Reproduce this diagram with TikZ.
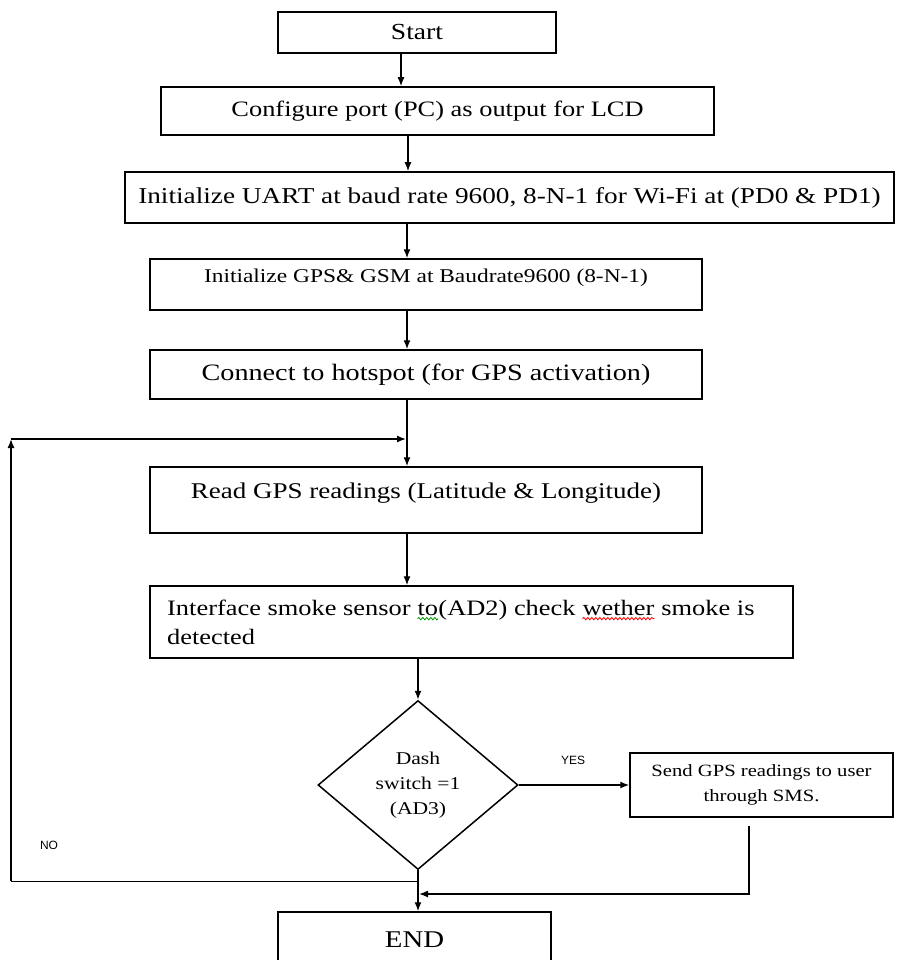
\documentclass[tikz,border=0pt]{standalone}
\usepackage{fontspec}
\setmainfont{Liberation Serif}[FakeStretch=1.2]
\newfontfamily\labfont{Liberation Sans}
\usetikzlibrary{arrows.meta,shapes.geometric,decorations.pathmorphing}
\newcommand\fsz[2]{\fontsize{#1}{#2}\selectfont}
\newcommand\wavy[2]{\tikz[baseline=(w.base)]{\node[inner sep=0pt,outer sep=0pt] (w) {#2};\draw[#1,line width=0.8pt,decorate,decoration={snake,amplitude=1.2pt,segment length=4pt}] ([yshift=-3pt]w.base west) -- ([yshift=-3pt]w.base east);}}
\tikzset{
  box/.style={draw, rectangle, line width=1.5pt, inner sep=0pt, align=center},
  arr/.style={-{Latex[length=9pt,width=7pt]}, line width=1.4pt},
  ln/.style={line width=1.4pt},
  txt/.style={inner sep=0pt, align=center},
  lab/.style={inner sep=0pt, font=\labfont\fsz{12}{14}},
}
\begin{document}
\begin{tikzpicture}[x=1pt,y=-1pt]
\useasboundingbox (0,0) rectangle (896,960);
\clip (0,0) rectangle (896,960);
% boxes
\node[box, minimum width=278, minimum height=41, font=\fsz{23}{27}] (start) at (417,32.5) {Start};
\node[box, minimum width=553, minimum height=48, font=\fsz{22}{26}] (conf) at (437.5,111) {Configure port (PC) as output for LCD};
\node[box, minimum width=769, minimum height=51, font=\fsz{22.7}{27}] (uart) at (509.5,197.5) {Initialize UART at baud rate 9600, 8-N-1 for Wi-Fi at (PD0 \& PD1)};
\node[box, minimum width=552, minimum height=51] (gps) at (426,284.5) {};
\node[txt, font=\fsz{19.5}{23}] (gpst) at (426,278) {Initialize GPS\& GSM at Baudrate9600 (8-N-1)};
\node[box, minimum width=552, minimum height=49, font=\fsz{23.5}{28}] (hot) at (426,374.5) {Connect to hotspot (for GPS activation)};
\node[box, minimum width=552, minimum height=66] (read) at (426,500) {};
\node[txt, font=\fsz{22.5}{27}] (readt) at (426,493) {Read GPS readings (Latitude \& Longitude)};
\node[box, minimum width=643, minimum height=72] (intf) at (471.5,622) {};
\node[inner sep=0pt, anchor=west, align=left, font=\fsz{22}{29}] (intft) at (167,622.5) {Interface smoke sensor \wavy{green!60!black}{to}(AD2) check \wavy{red}{wether} smoke is\\detected};
\node[draw, diamond, line width=1.5pt, inner sep=0pt, aspect=1.18, minimum width=200, minimum height=169, align=center, font=\fsz{18}{25}] (dia) at (418,785) {Dash\\switch =1\\(AD3)};
\node[box, minimum width=263, minimum height=64, font=\fsz{17.2}{25}] (send) at (761.5,785) {Send GPS readings to user\\through SMS.};
\node[box, minimum width=273, minimum height=80] (endb) at (414.5,952) {};
\node[txt, font=\fsz{24}{28}] (endt) at (414.5,940) {END};
% labels
\node[lab] (yes) at (573,760) {YES};
\node[lab] (no) at (49,845) {NO};
% connectors
\draw[arr] ([xshift=-16pt]start.south) -- ([xshift=-16pt]start.south |- conf.north);
\draw[arr] ([xshift=-29.5pt]conf.south) -- ([xshift=-29.5pt]conf.south |- uart.north);
\draw[arr] (gps.north |- uart.south) ++(-19pt,0) -- ([xshift=-19pt]gps.north);
\draw[arr] ([xshift=-19pt]gps.south) -- ([xshift=-19pt]hot.north);
\draw[arr] ([xshift=-19pt]hot.south) -- ([xshift=-19pt]read.north);
\draw[arr] ([xshift=-19pt]read.south) -- ([xshift=-19pt]intf.north -| read.north);
\draw[arr] (intf.south -| dia.north) -- (dia.north);
\draw[arr] (dia.east) -- (send.west);
\draw[arr] (dia.south) -- (dia.south |- endb.north);
% NO loop
\coordinate (nj) at ([yshift=-11pt]dia.south);
\coordinate (lt) at (11,439);
\coordinate (lc) at (lt |- nj);
\coordinate (mj) at ([xshift=-19pt]read.north |- lt);
\draw[ln] (nj) -- (lc);
\draw[arr] (lc) -- (lt);
\draw[arr] (lt) -- ([xshift=-1pt]mj);
% YES return
\coordinate (sj) at ([xshift=-12.5pt,yshift=-8pt]send.south);
\coordinate (rj) at ([xshift=1pt]dia.south |- 0,894);
\draw[arr] (sj) |- (rj);
\end{tikzpicture}
\end{document}
